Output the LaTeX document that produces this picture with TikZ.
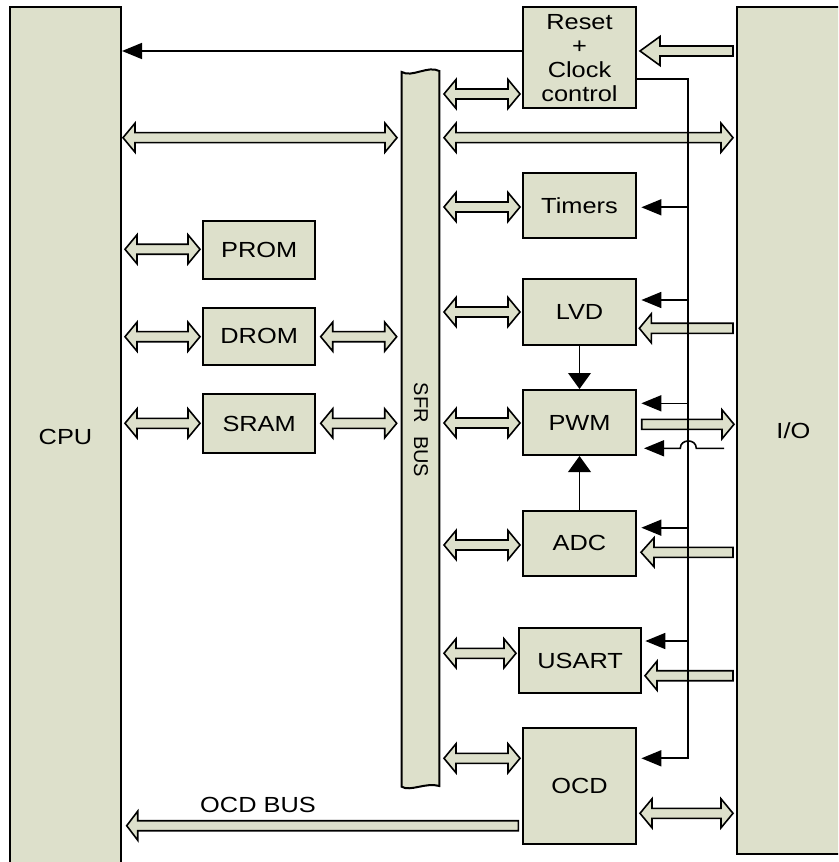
\documentclass[tikz,border=0pt]{standalone}
\usepackage{fontspec}
\setmainfont{Liberation Sans}[FakeStretch=1.16]
\newfontfamily\plainsans{Liberation Sans}
\usetikzlibrary{arrows.meta,calc}
\definecolor{blkfill}{RGB}{221,224,203}
\tikzset{
  blk/.style={draw=black, fill=blkfill, line width=1.5pt, inner sep=0pt, align=center,
    font=\fontsize{16.4}{18}\selectfont},
  barrow/.style={draw=black, fill=blkfill, line width=1.2pt, line join=miter},
  sig/.style={line width=1.2pt, line join=miter, -{Triangle[length=15pt,width=12pt]}},
  vsig/.style={line width=1.2pt, -{Triangle[length=12pt,width=17pt]}},
  lbl/.style={font=\fontsize{16.4}{18}\selectfont, inner sep=0pt}
}
% box from (x1,y1) to (x2,y2) in pixel units
\newcommand\blk[6]{\node[blk, minimum width={(#4-#2)*0.75pt}, minimum height={(#5-#3)*0.75pt}]
  (#1) at ({(#2+#4)/2},{(#3+#5)/2}) {#6};}
% double block arrow x1 x2 y
\newcommand\darrow[3]{\filldraw[barrow] (#1,#3) -- (#1+12,#3-14.5) -- (#1+12,#3-5) -- (#2-12,#3-5)
  -- (#2-12,#3-14.5) -- (#2,#3) -- (#2-12,#3+14.5) -- (#2-12,#3+5) -- (#1+12,#3+5)
  -- (#1+12,#3+14.5) -- cycle;}
% single block arrow tail tip y headlength
\newcommand\harrow[4]{\pgfmathsetmacro\hd{(#2>#1) ? -#4 : #4}%
  \filldraw[barrow] (#1,#3-5) -- (#2+\hd,#3-5) -- (#2+\hd,#3-14.5) -- (#2,#3)
  -- (#2+\hd,#3+14.5) -- (#2+\hd,#3+5) -- (#1,#3+5) -- cycle;}
\begin{document}
\begin{tikzpicture}[x=0.75pt,y=-0.75pt]
\useasboundingbox (0,0) rectangle (838,862);
\clip (0,0) rectangle (838,862);

% main blocks
\blk{CPU}{10}{7.3}{121}{866}{CPU}
\blk{IO}{736.7}{7.3}{850}{854.3}{I/O}
\blk{Reset}{523.3}{7.3}{635.7}{108.3}{Reset\\+\\Clock\\control}
\blk{Timers}{523.3}{172.7}{635.7}{237.7}{Timers}
\blk{LVD}{523.3}{279.3}{635.7}{345}{LVD}
\blk{PWM}{523.3}{390}{635.7}{455}{PWM}
\blk{ADC}{523.3}{510.7}{635.7}{575.7}{ADC}
\blk{USART}{519.3}{627.7}{641}{693.3}{USART}
\blk{OCD}{523.3}{728.3}{635.7}{844}{OCD}
\blk{PROM}{203.3}{221}{315}{279}{PROM}
\blk{DROM}{203.3}{307.7}{315}{365}{DROM}
\blk{SRAM}{203.3}{394.3}{315}{452.7}{SRAM}

% SFR bus with wavy ends
\filldraw[draw=black, fill=blkfill, line width=1.5pt]
  (401.7,72) -- (401.7,786.7) .. controls (410,792) and (426,782) .. (439.3,786)
  -- (439.3,71) .. controls (428,65) and (412,78) .. cycle;
\node[font=\plainsans\fontsize{15}{18}\selectfont, inner sep=0pt, rotate=-90] (sfrlbl)
  at (421,430) {SFR\hspace{10pt}BUS};

% double block arrows
\darrow{444}{520}{94}
\darrow{123}{397}{137.7}
\darrow{444}{733}{137.7}
\darrow{444}{520}{207}
\darrow{125}{200}{249.3}
\darrow{125}{200}{336.7}
\darrow{320.7}{396.7}{336.7}
\darrow{125}{200}{423.3}
\darrow{320.7}{396.7}{423.3}
\darrow{444}{520}{312}
\darrow{444}{520}{423}
\darrow{444}{520}{545}
\darrow{444}{516}{653.3}
\darrow{444}{520}{758.3}
\darrow{640}{733}{813.3}

% single block arrows
\harrow{733}{640}{51}{20}
\harrow{733}{639.3}{328.3}{12}
\harrow{641.7}{734}{424.3}{12}
\harrow{733}{641}{552.3}{13}
\harrow{733}{645}{675.7}{12}
\harrow{518.3}{126.7}{825.7}{11}
\node[lbl] (ocdbus) at (258,805) {OCD BUS};

% control signals
\draw[sig] (Reset.west |- 0,51) -- (CPU.east |- 0,51);
\draw[sig, shorten >=3.5pt, line width=1.3pt] (Reset.east |- 0,79.3) -| (688.3,758.3) -- (OCD.east |- 0,758.3);
\coordinate (bTim) at (688.3,207.3);
\coordinate (bLVD) at (688.3,300);
\coordinate (bPWM) at (688.3,403.3);
\coordinate (bADC) at (688.3,527.7);
\coordinate (bUSA) at (688.3,641);
\draw[sig, shorten >=3.5pt] (bTim) -- (Timers.east |- bTim);
\draw[sig, shorten >=3.5pt] (bLVD) -- (LVD.east |- bLVD);
\draw[sig, shorten >=3.5pt] (bPWM) -- (PWM.east |- bPWM);
\draw[sig, shorten >=3.5pt] (bADC) -- (ADC.east |- bADC);
\draw[sig, shorten >=2.5pt] (bUSA) -- (USART.east |- bUSA);
\coordinate (hopin) at (724,448.3);
\draw[sig, shorten >=5.5pt] (hopin) -- (696.3,448.3) .. controls (696.3,438.5) and (680.3,438.5) .. (680.3,448.3)
  -- (PWM.east |- hopin);
\draw[vsig] (LVD.south) -- (PWM.north);
\draw[vsig] (ADC.north) -- (PWM.south);
\end{tikzpicture}
\end{document}
